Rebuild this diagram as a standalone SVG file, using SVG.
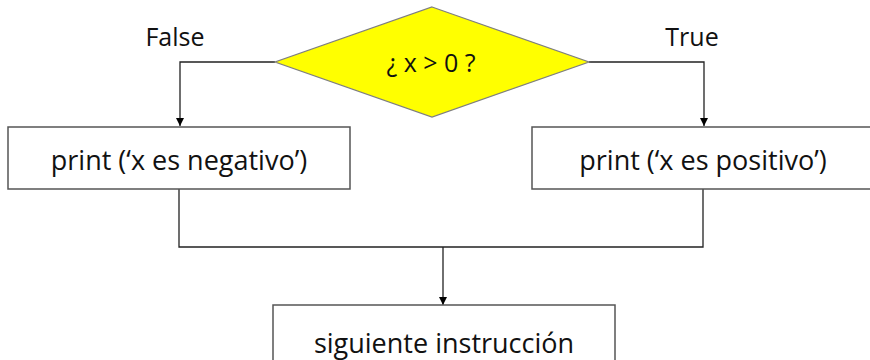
<svg xmlns="http://www.w3.org/2000/svg" width="870" height="360" viewBox="0 0 870 360">
<style>
.box{fill:#fff;stroke:#555;stroke-width:1.5}
.dia{fill:#ffff00;stroke:#7f7f7f;stroke-width:1.2}
.ln{fill:none;stroke:#222;stroke-width:1.3}
.t{font-family:"Open Sans","Liberation Sans",sans-serif;font-size:27px;fill:#111;text-anchor:middle}
.s{font-size:25px}
</style>
<defs>
<marker id="ah" viewBox="0 0 10 10" refX="10" refY="5" markerWidth="8" markerHeight="8" markerUnits="userSpaceOnUse" orient="auto">
<path d="M0,0 L10,5 L0,10 Z" fill="#000"/>
</marker>
</defs>
<rect width="870" height="360" fill="#fff"/>
<g id="connectors">
<polyline class="ln" points="275,62 180,62 180,126" marker-end="url(#ah)"/>
<polyline class="ln" points="589,62 704,62 704,126" marker-end="url(#ah)"/>
<polyline class="ln" points="179,189 179,247 703,247 703,189"/>
<line class="ln" x1="443" y1="247" x2="443" y2="305" stroke-width="1.8" marker-end="url(#ah)"/>
</g>
<g id="label-false"><text class="t s" x="175" y="46">False</text></g>
<g id="label-true"><text class="t s" x="692" y="46">True</text></g>
<g id="decision">
<polygon class="dia" points="432,7 589,62 432,117 275,62"/>
<text class="t s" x="431" y="72">¿ x &gt; 0 ?</text>
</g>
<g id="negativo">
<rect class="box" x="8" y="127" width="342" height="62"/>
<text class="t" x="179" y="170">print (‘x es negativo’)</text>
</g>
<g id="positivo">
<rect class="box" x="532" y="127" width="345" height="62"/>
<text class="t" x="703" y="170">print (‘x es positivo’)</text>
</g>
<g id="siguiente">
<rect class="box" x="273" y="305" width="342" height="70"/>
<text class="t" x="444" y="353">siguiente instrucción</text>
</g>
</svg>
